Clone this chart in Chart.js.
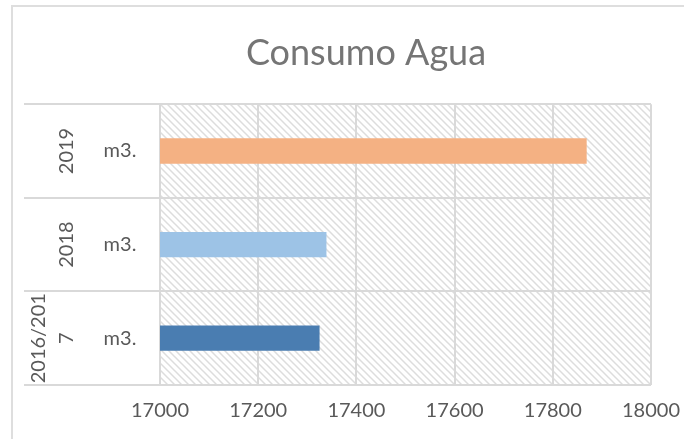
<!DOCTYPE html>
<html><head><meta charset="utf-8">
<script src="https://cdn.jsdelivr.net/npm/chart.js@4"></script>
<style>html,body{margin:0;padding:0;background:#fff}</style>
</head><body>
<canvas id="c" width="694" height="439"></canvas>
<script>
const chartTitle = 'Consumo Agua';
const categories = ['2016/2017', '2018', '2019'];
const units = ['m3.', 'm3.', 'm3.'];
const values = [17325, 17339, 17869];
const barColors = ['#4a7db1', '#9dc3e6', '#f4b183'];
const xTicks = [17000, 17200, 17400, 17600, 17800, 18000];

const FONT = 'Lato';
const TEXT = '#595959';
const GRID = '#d9d9d9';

function makePattern(ctx) {
  const p = 7;
  const t = document.createElement('canvas');
  t.width = p; t.height = p;
  const g = t.getContext('2d');
  g.strokeStyle = '#dddddd';
  g.lineWidth = 1.5;
  g.beginPath();
  g.moveTo(-1, -1); g.lineTo(p + 1, p + 1);
  g.moveTo(-p - 1, -1); g.lineTo(1, p + 1);
  g.moveTo(p - 1, -1); g.lineTo(2 * p + 1, p + 1);
  g.stroke();
  return ctx.createPattern(t, 'repeat');
}

function wrapChars(ctx, text, maxW) {
  const lines = [];
  let cur = '';
  for (const ch of text) {
    if (cur && ctx.measureText(cur + ch).width > maxW) { lines.push(cur); cur = ch; }
    else cur += ch;
  }
  if (cur) lines.push(cur);
  return lines;
}

const decor = {
  id: 'decor',
  beforeDraw(chart) {
    const { ctx, chartArea: a } = chart;
    ctx.save();
    ctx.fillStyle = '#fff';
    ctx.fillRect(0, 0, chart.width, chart.height);
    ctx.strokeStyle = '#dedede';
    ctx.lineWidth = 2;
    ctx.beginPath();
    ctx.moveTo(12, 439); ctx.lineTo(12, 6); ctx.lineTo(684, 6);
    ctx.stroke();
    ctx.fillStyle = makePattern(ctx);
    ctx.fillRect(a.left, a.top, a.right - a.left, a.bottom - a.top);
    ctx.restore();
  },
  afterDraw(chart) {
    const { ctx, chartArea: a } = chart;
    const y = chart.scales.y;
    const n = categories.length;
    const step = (a.bottom - a.top) / n;
    ctx.save();
    ctx.strokeStyle = GRID;
    ctx.lineWidth = 2;
    ctx.beginPath();
    for (let i = 0; i <= n; i++) {
      const py = Math.round(a.top + i * step);
      ctx.moveTo(24, py); ctx.lineTo(a.left, py);
    }
    ctx.stroke();
    ctx.fillStyle = TEXT;
    ctx.font = '20px ' + FONT;
    ctx.textAlign = 'center';
    ctx.textBaseline = 'middle';
    categories.forEach((cat, i) => {
      const py = y.getPixelForValue(i);
      ctx.fillText(units[i], 120, py);
      const lines = wrapChars(ctx, cat, step - 2);
      const lh = 28;
      lines.forEach((ln, k) => {
        ctx.save();
        ctx.translate(67 - (lines.length - 1 - k) * lh, py);
        ctx.rotate(-Math.PI / 2);
        ctx.fillText(ln, 0, 0);
        ctx.restore();
      });
    });
    ctx.restore();
  }
};

new Chart(document.getElementById('c'), {
  type: 'bar',
  data: {
    labels: categories,
    datasets: [{
      data: values,
      backgroundColor: barColors,
      borderWidth: 0,
      categoryPercentage: 1,
      barPercentage: 0.27
    }]
  },
  options: {
    indexAxis: 'y',
    responsive: false,
    animation: false,
    layout: { padding: { left: 80, right: 42, top: 0, bottom: 2 } },
    plugins: {
      legend: { display: false },
      tooltip: { enabled: false },
      title: {
        display: true,
        text: chartTitle,
        color: '#757575',
        font: { family: FONT, size: 36, weight: 'normal' },
        padding: { top: 32, bottom: 29 }
      }
    },
    scales: {
      x: {
        min: xTicks[0],
        max: xTicks[xTicks.length - 1],
        afterBuildTicks: s => { s.ticks = xTicks.map(v => ({ value: v })); },
        grid: { color: GRID, lineWidth: 2, drawTicks: false },
        border: { display: false },
        ticks: { color: TEXT, font: { family: FONT, size: 20 }, padding: 14, callback: v => String(v) }
      },
      y: {
        reverse: true,
        afterFit: s => { s.width = 80; },
        grid: { color: GRID, lineWidth: 2, drawTicks: false, offset: true },
        border: { display: true, color: GRID, width: 2 },
        ticks: { display: false }
      }
    }
  },
  plugins: [decor]
});
</script>
</body></html>
